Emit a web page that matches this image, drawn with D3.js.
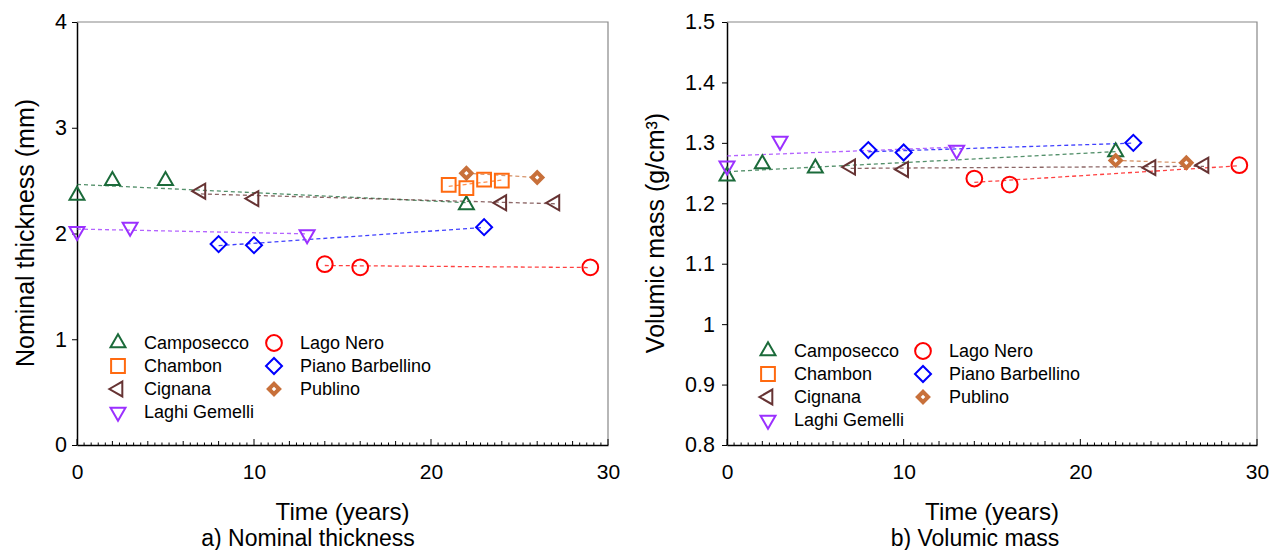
<!DOCTYPE html>
<html>
<head>
<meta charset="utf-8">
<script src="https://cdn.jsdelivr.net/npm/d3@7"></script>
<style>
  body { margin: 0; background: #fff; }
  svg { font-family: "Liberation Sans", Arial, sans-serif; }
</style>
</head>
<body>
<svg id="chart" width="1273" height="550"></svg>
<script>
var sites = ["Camposecco", "Chambon", "Cignana", "Laghi Gemelli", "Lago Nero", "Piano Barbellino", "Publino"];

// years since installation, one list per site (same order as sites)
var thicknessYears = [[0, 2, 5, 22], [21, 22, 23, 24], [7, 10, 24, 27], [0, 3, 13], [14, 16, 29], [8, 10, 23], [22, 26]];
var thicknessMm = [[2.36, 2.50, 2.50, 2.27], [2.46, 2.43, 2.51, 2.50], [2.40, 2.33, 2.29, 2.29], [2.02, 2.06, 1.99], [1.71, 1.68, 1.68], [1.90, 1.89, 2.06], [2.57, 2.53]];

var massYears = [[0, 2, 5, 22], [], [7, 10, 24, 27], [0, 3, 13], [14, 16, 29], [8, 10, 23], [22, 26]];
var massGcm3 = [[1.245, 1.265, 1.258, 1.285], [], [1.260, 1.256, 1.259, 1.263], [1.262, 1.303, 1.288], [1.241, 1.231, 1.263], [1.288, 1.284, 1.300], [1.271, 1.267]];

var timeTicks = [0, 10, 20, 30];
var thicknessTicks = [0, 1, 2, 3, 4];
var massTicks = [0.8, 0.9, 1, 1.1, 1.2, 1.3, 1.4, 1.5];

var siteStyle = {
  "Camposecco":       { color: "#1b6b3a", shape: "up" },
  "Chambon":          { color: "#ff6a10", shape: "square" },
  "Cignana":          { color: "#663333", shape: "left" },
  "Laghi Gemelli":    { color: "#9b30ff", shape: "down" },
  "Lago Nero":        { color: "#ff0000", shape: "circle" },
  "Piano Barbellino": { color: "#0000ff", shape: "diamond" },
  "Publino":          { color: "#c8703a", shape: "solid" }
};

var svg = d3.select("#chart");

function drawMarker(g, site, x, y) {
  var st = siteStyle[site],
    sym = d3.symbol(),
    rot = 0,
    sw = 2;

  if (st.shape == "up") sym.type(d3.symbolTriangle).size(97);
  if (st.shape == "left") { sym.type(d3.symbolTriangle).size(97); rot = -90; }
  if (st.shape == "down") { sym.type(d3.symbolTriangle).size(97); rot = 180; }
  if (st.shape == "square") sym.type(d3.symbolSquare).size(190);
  if (st.shape == "circle") sym.type(d3.symbolCircle).size(195);
  if (st.shape == "diamond") { sym.type(d3.symbolSquare).size(128); rot = 45; }
  if (st.shape == "solid") { sym.type(d3.symbolSquare).size(52); rot = 45; sw = 4; }

  g.append("path")
    .attr("d", sym())
    .attr("transform", "translate(" + x + "," + y + ") rotate(" + rot + ")")
    .attr("fill", st.shape == "solid" ? "#fff" : "none")
    .attr("stroke", st.color)
    .attr("stroke-width", sw);
}

function fitLine(xs, ys) {
  var mx = d3.mean(xs), my = d3.mean(ys), sxy = 0, sxx = 0;
  xs.forEach(function(t, i) {
    sxy += (t - mx) * (ys[i] - my);
    sxx += (t - mx) * (t - mx);
  });
  var b = sxx ? sxy / sxx : 0, a = my - b * mx;
  return [d3.min(xs), d3.max(xs)].map(function(t) { return [t, a + b * t]; });
}

function makePanel(opts) {
  var x = d3.scaleLinear().domain([0, 30]).range([opts.left, opts.right]),
    y = d3.scaleLinear().domain(opts.yDomain).range([445, 22]),
    g = svg.append("g");

  // grey frame top/right
  g.append("path")
    .attr("d", "M" + opts.left + ",22H" + opts.right + "V445")
    .attr("fill", "none")
    .attr("stroke", "#888")
    .attr("stroke-width", 1.2);

  // minor / medium time ticks, pointing inward
  var minor = d3.range(0, 30.01, 0.4);
  g.append("g")
    .selectAll("line")
    .data(minor)
    .enter().append("line")
      .attr("x1", function(d) { return x(d); })
      .attr("x2", function(d) { return x(d); })
      .attr("y1", 445)
      .attr("y2", function(d) {
        var r = Math.round(d * 10);
        if (r % 100 == 0) return 439;
        if (r % 20 == 0) return 441;
        return 442.5;
      })
      .attr("stroke", "#000")
      .attr("stroke-width", 1);

  var xAxis = g.append("g")
    .attr("transform", "translate(0,445)")
    .call(d3.axisBottom(x).tickValues(timeTicks).tickSize(0).tickPadding(19).tickSizeOuter(0));
  xAxis.select(".domain").attr("stroke", "#000").attr("stroke-width", 1.5);
  xAxis.selectAll("text").attr("font-size", 21).attr("fill", "#000").style("font-family", "Liberation Sans, Arial, sans-serif");

  var yAxis = g.append("g")
    .attr("transform", "translate(" + opts.left + ",0)")
    .call(d3.axisLeft(y).tickValues(opts.yTicks).tickFormat(d3.format("~g")).tickSize(5).tickPadding(opts.pad).tickSizeOuter(0));
  yAxis.select(".domain").attr("stroke", "#000").attr("stroke-width", 1.5);
  yAxis.selectAll("line").attr("stroke", "#000");
  yAxis.selectAll("text").attr("font-size", 21.5).attr("fill", "#000").style("font-family", "Liberation Sans, Arial, sans-serif");

  var line = d3.line()
    .x(function(d) { return x(d[0]); })
    .y(function(d) { return y(d[1]); });

  sites.forEach(function(site, i) {
    var ts = opts.years[i], vs = opts.values[i];
    if (!ts.length) return;
    g.append("path")
      .attr("d", line(fitLine(ts, vs)))
      .attr("fill", "none")
      .attr("stroke", siteStyle[site].color)
      .attr("stroke-opacity", 0.75)
      .attr("stroke-width", 1.3)
      .attr("stroke-dasharray", "4,3");
  });

  sites.forEach(function(site, i) {
    opts.years[i].forEach(function(t, j) {
      drawMarker(g, site, x(t), y(opts.values[i][j]));
    });
  });

  var cx = (opts.left + opts.right) / 2;
  g.append("text")
    .attr("x", cx).attr("y", 520)
    .attr("text-anchor", "middle")
    .attr("font-size", 24)
    .text("Time (years)");
  g.append("text")
    .attr("x", opts.captionX).attr("y", 546)
    .attr("text-anchor", "middle")
    .attr("font-size", 23)
    .text(opts.caption);
  g.append("text")
    .attr("transform", "translate(" + opts.titleX + ",233) rotate(-90)")
    .attr("text-anchor", "middle")
    .attr("font-size", 25)
    .text(opts.yTitle);

  // legend
  var lg = g.append("g");
  sites.forEach(function(site, i) {
    var col = i < 4 ? 0 : 1,
      row = i < 4 ? i : i - 4,
      mx = opts.legX[col],
      my = opts.legY + row * 23;
    drawMarker(lg, site, mx, my);
    lg.append("text")
      .attr("x", mx + 26)
      .attr("y", my + 6)
      .attr("font-size", 18)
      .text(site);
  });
}

makePanel({
  left: 77, right: 608, pad: 5,
  yDomain: [0, 4], yTicks: thicknessTicks,
  years: thicknessYears, values: thicknessMm,
  yTitle: "Nominal thickness (mm)", titleX: 34,
  caption: "a) Nominal thickness", captionX: 308,
  legX: [118, 274], legY: 343
});

makePanel({
  left: 727, right: 1257, pad: 7,
  yDomain: [0.8, 1.5], yTicks: massTicks,
  years: massYears, values: massGcm3,
  yTitle: "Volumic mass (g/cm³)", titleX: 664,
  caption: "b) Volumic mass", captionX: 975,
  legX: [768, 923], legY: 351
});
</script>
</body>
</html>
